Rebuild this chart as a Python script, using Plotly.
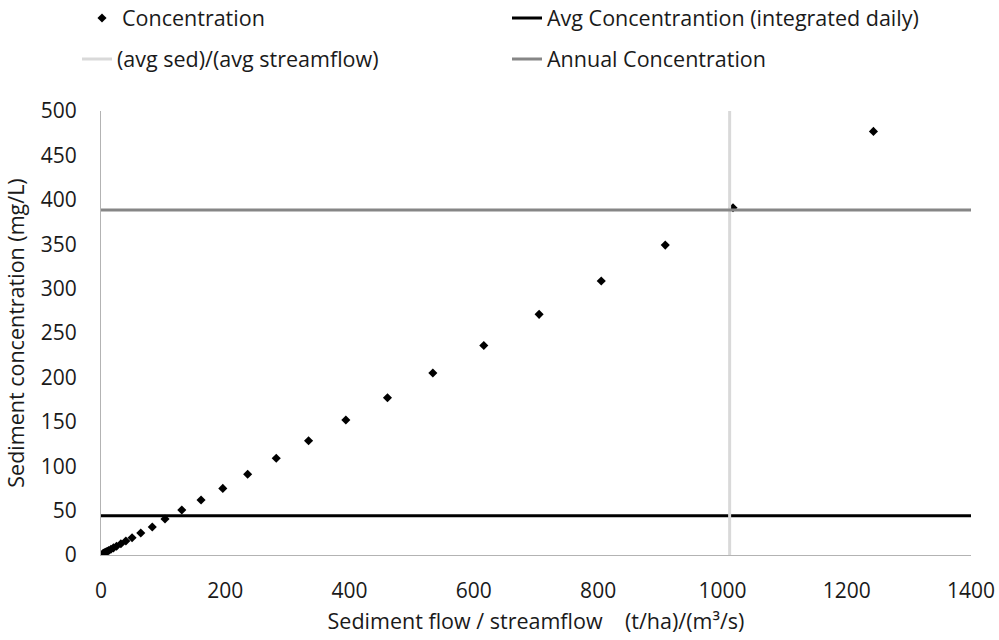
import plotly.graph_objects as go

# Data
flow_ratio = [3, 4, 5, 6.3, 8, 10, 12.5, 16, 20, 25, 32, 40, 50, 64, 82.5, 103, 130,
              161, 196, 236, 282, 334, 394, 461, 534, 616, 705, 805, 908, 1017, 1243]
concentration = [1.4, 1.8, 2.2, 2.7, 3.3, 4.1, 5.1, 6.4, 8.0, 9.9, 12.6, 15.7, 19.5,
                 24.8, 31.5, 40.5, 50.7, 62, 75, 91, 109, 128.7, 152, 177, 205, 236,
                 271, 308.6, 349, 391, 477]
avg_conc_daily = 44.3
annual_conc = 388.5
avg_sed_over_avg_flow = 1011.6
x_range = [0, 1400]
y_range = [0, 500]

FONT = "Open Sans"
TXT = "#1a1a1a"
fig = go.Figure()
fig.add_trace(go.Scatter(
    x=flow_ratio, y=concentration, mode="markers", name="Concentration",
    marker=dict(symbol="diamond", size=7, color="black"), legend="legend",
))
fig.add_trace(go.Scatter(
    x=x_range, y=[avg_conc_daily, avg_conc_daily], mode="lines",
    name="Avg Concentrantion (integrated daily)",
    line=dict(color="black", width=3), legend="legend",
))
fig.add_trace(go.Scatter(
    x=[avg_sed_over_avg_flow, avg_sed_over_avg_flow], y=y_range, mode="lines",
    name="(avg sed)/(avg streamflow)",
    line=dict(color="#d9d9d9", width=3), legend="legend2",
))
fig.add_trace(go.Scatter(
    x=x_range, y=[annual_conc, annual_conc], mode="lines",
    name="Annual Concentration",
    line=dict(color="#868686", width=3), legend="legend2",
))

leg_common = dict(
    orientation="h", xref="container", yref="container",
    xanchor="left", yanchor="middle",
    entrywidthmode="pixels", itemwidth=30,
    font=dict(family=FONT, size=21.5, color=TXT),
    bgcolor="rgba(0,0,0,0)",
)

fig.update_layout(
    width=999, height=640,
    margin=dict(l=101, r=28, t=111, b=85, autoexpand=False),
    paper_bgcolor="white", plot_bgcolor="white",
    font=dict(family=FONT, size=21, color=TXT),
    showlegend=True,
    legend=dict(leg_common, x=82 / 999, y=1 - 18 / 640, entrywidth=380),
    legend2=dict(leg_common, x=77 / 999, y=1 - 59 / 640, entrywidth=385),
    xaxis=dict(
        range=x_range, dtick=200, showgrid=False, zeroline=False,
        showline=True, linecolor="#b3b3b3", linewidth=1,
        ticks="", ticklabelstandoff=17,
        tickfont=dict(family=FONT, size=21, color=TXT),
        title=dict(text="Sediment flow / streamflow    (t/ha)/(m³/s)",
                   font=dict(family=FONT, size=21.5, color=TXT), standoff=10),
    ),
    yaxis=dict(
        range=y_range, dtick=50, showgrid=False, zeroline=False,
        showline=True, linecolor="#b3b3b3", linewidth=1,
        ticks="", ticklabelstandoff=19,
        tickfont=dict(family=FONT, size=21, color=TXT),
        title=dict(text="Sediment concentration (mg/L)",
                   font=dict(family=FONT, size=21.5, color=TXT), standoff=10),
    ),
)

fig.write_html("out.html")
